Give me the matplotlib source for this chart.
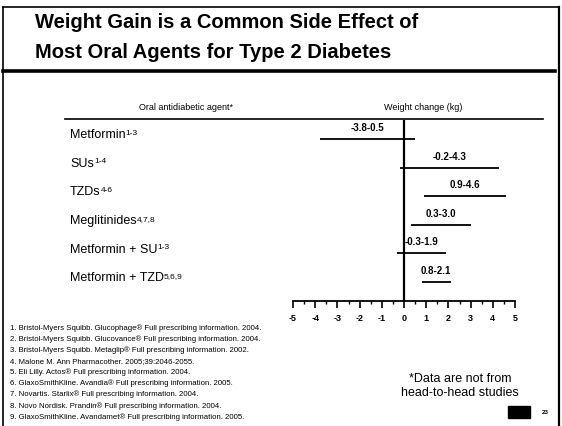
import matplotlib
matplotlib.use('Agg')
import matplotlib.pyplot as plt
import matplotlib.transforms as transforms
from matplotlib.lines import Line2D
from matplotlib.patches import Rectangle

plt.rcParams['font.family'] = ['Liberation Sans', 'DejaVu Sans']

# Data
agents = ['Metformin', 'SUs', 'TZDs', 'Meglitinides', 'Metformin + SU', 'Metformin + TZD']
agent_refs = ['1-3', '1-4', '4-6', '4,7,8', '1-3', '5,6,9']
low = [-3.8, -0.2, 0.9, 0.3, -0.3, 0.8]
high = [0.5, 4.3, 4.6, 3.0, 1.9, 2.1]
range_labels = ['-3.8-0.5', '-0.2-4.3', '0.9-4.6', '0.3-3.0', '-0.3-1.9', '0.8-2.1']
ticks = [-5, -4, -3, -2, -1, 0, 1, 2, 3, 4, 5]

references = [
    '1. Bristol-Myers Squibb. Glucophage\u00ae Full prescribing information. 2004.',
    '2. Bristol-Myers Squibb. Glucovance\u00ae Full prescribing information. 2004.',
    '3. Bristol-Myers Squibb. Metaglip\u00ae Full prescribing information. 2002.',
    '4. Malone M. Ann Pharmacother. 2005;39:2046-2055.',
    '5. Eli Lilly. Actos\u00ae Full prescribing information. 2004.',
    '6. GlaxoSmithKline. Avandia\u00ae Full prescribing information. 2005.',
    '7. Novartis. Starlix\u00ae Full prescribing information. 2004.',
    '8. Novo Nordisk. Prandin\u00ae Full prescribing information. 2004.',
    '9. GlaxoSmithKline. Avandamet\u00ae Full prescribing information. 2005.',
]

W, H = 562, 427
fig = plt.figure(figsize=(W / 100, H / 100), dpi=100)

def fx(px):
    return px / W

def fy(py):
    return 1 - py / H

# page frame and title box
fig.add_artist(Line2D([fx(3), fx(3)], [fy(8), 0], color='black', lw=1.2))
fig.add_artist(Line2D([fx(3), fx(559)], [fy(8), fy(8)], color='black', lw=1.2))
fig.add_artist(Line2D([fx(559), fx(559)], [fy(8), 0], color='black', lw=1.6))
fig.add_artist(Line2D([fx(3), fx(555)], [fy(72), fy(72)], color='black', lw=2.6))

fig.text(fx(35), fy(23), 'Weight Gain is a Common Side Effect of', fontsize=14.5,
         fontweight='bold', va='center', ha='left')
fig.text(fx(35), fy(53), 'Most Oral Agents for Type 2 Diabetes', fontsize=14.5,
         fontweight='bold', va='center', ha='left')

# column headers
fig.text(fx(186), fy(108), 'Oral antidiabetic agent*', fontsize=6.5, ha='center', va='center')
fig.text(fx(423), fy(108), 'Weight change (kg)', fontsize=6.5, ha='center', va='center')
fig.add_artist(Line2D([fx(65), fx(543)], [fy(120), fy(120)], color='black', lw=1.2))

# chart
ax = fig.add_axes([fx(293), fy(302), fx(515) - fx(293), (302 - 121) / H])
ax.set_xlim(-5, 5)
n = len(agents)
ax.set_ylim(n - 1 + 0.66, -0.66)

for i in range(n):
    ax.plot([low[i], high[i]], [i, i], color='black', lw=1.3, solid_capstyle='butt')
    ax.text((low[i] + high[i]) / 2, i - 0.42, range_labels[i], fontsize=7,
            fontweight='bold', ha='center', va='center')

ax.axvline(0, color='black', lw=1.6)

trans = transforms.blended_transform_factory(fig.transFigure, ax.transData)
for i, name in enumerate(agents):
    t = ax.text(fx(70), i - 0.17, name, transform=trans, fontsize=9,
                ha='left', va='center', clip_on=False)
    ax.annotate(agent_refs[i], xy=(1, 0.95), xycoords=t, xytext=(0.1, 0),
                textcoords='offset points', fontsize=6, ha='left', va='top')

for s in ['top', 'right', 'left']:
    ax.spines[s].set_visible(False)
ax.spines['bottom'].set_linewidth(1.3)
ax.set_yticks([])
ax.set_xticks(ticks)
ax.set_xticks([t + 0.5 for t in ticks[:-1]], minor=True)
ax.set_xticklabels([str(t) for t in ticks], fontsize=6.5, fontweight='bold')
ax.tick_params(axis='x', which='major', direction='out', length=5, width=1.2, pad=4)
ax.tick_params(axis='x', which='minor', direction='out', length=2.5, width=1.0)
ax.patch.set_visible(False)

# references
for i, ref in enumerate(references):
    fig.text(fx(10), fy(328 + i * 11.1), ref, fontsize=5.6, ha='left', va='center')

# footnote
fig.text(fx(460), fy(386), '*Data are not from\nhead-to-head studies', fontsize=9,
         ha='center', va='center', linespacing=1.2)

# page number
fig.add_artist(Rectangle((fx(508), fy(419)), fx(530) - fx(508), (419 - 407) / H,
                         transform=fig.transFigure, color='black'))
fig.text(fx(545), fy(413), '23', fontsize=4.5, fontweight='bold', ha='center', va='center')

fig.savefig('out.png', dpi=100)
